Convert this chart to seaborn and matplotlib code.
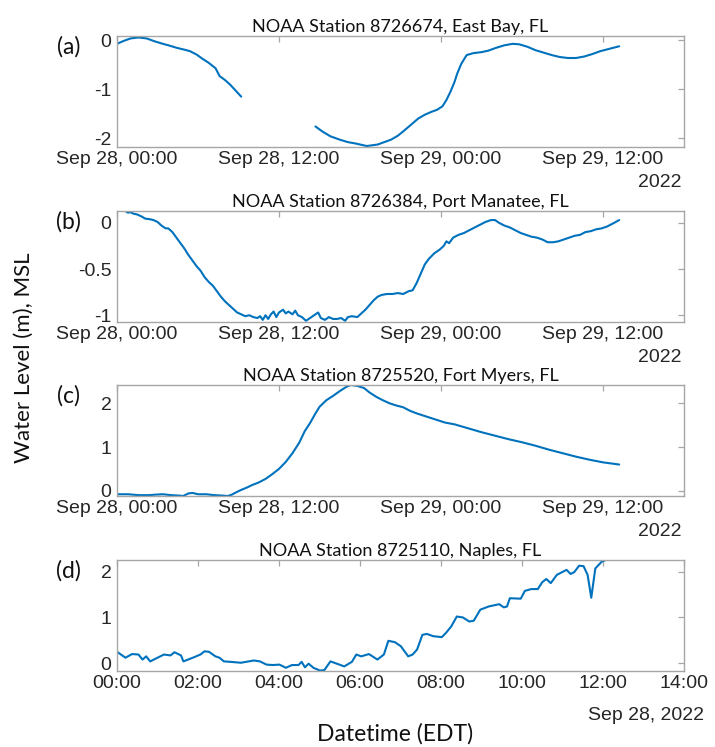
import numpy as np
import pandas as pd
import matplotlib
matplotlib.use("Agg")
import matplotlib.pyplot as plt
import matplotlib.dates as mdates
from matplotlib.ticker import FormatStrFormatter
import seaborn as sns

sns.set_style("white")
plt.rcParams['font.family'] = ['Liberation Sans', 'DejaVu Sans']
plt.rcParams['axes.unicode_minus'] = False

START = pd.Timestamp("2022-09-28 00:00")

# East Bay (8726674): hours after Sep 28 00:00 and level (m, MSL), record has a gap
eastbay_hours_1 = [0.0, 0.5, 1.0, 1.6, 2.2, 2.8, 3.4, 3.8, 4.4, 5.0, 5.4, 5.9, 6.3,
                   6.8, 7.3, 7.6, 8.0, 8.4, 8.8, 9.2]
eastbay_level_1 = [-0.07, -0.01, 0.04, 0.06, 0.04, -0.02, -0.07, -0.1, -0.15, -0.19,
                   -0.22, -0.29, -0.37, -0.46, -0.57, -0.73, -0.81, -0.91, -1.03, -1.15]
eastbay_hours_2 = [14.7, 15.2, 15.8, 16.5, 17.1, 17.7, 18.5, 19.3, 19.8, 20.3, 20.8,
                   21.2, 21.8, 22.3, 22.8, 23.3, 23.7, 24.1, 24.4, 24.7, 25.0, 25.2,
                   25.5, 25.9, 26.4, 27.0, 27.5, 28.1, 28.7, 29.3, 29.8, 30.4, 31.0,
                   31.6, 32.2, 32.8, 33.4, 34.0, 34.6, 35.2, 35.8, 36.5, 37.2]
eastbay_level_2 = [-1.76, -1.86, -1.96, -2.03, -2.08, -2.11, -2.16, -2.13, -2.08,
                   -2.03, -1.95, -1.86, -1.72, -1.6, -1.52, -1.46, -1.42, -1.35,
                   -1.22, -1.05, -0.85, -0.68, -0.48, -0.3, -0.26, -0.24, -0.21,
                   -0.15, -0.1, -0.07, -0.08, -0.13, -0.2, -0.25, -0.3, -0.34, -0.36,
                   -0.36, -0.33, -0.28, -0.22, -0.17, -0.12]

# Port Manatee (8726384)
manatee_hours = [0.0, 0.3, 0.6, 0.8, 1.0, 1.2, 1.5, 1.8, 2.1, 2.4, 2.7, 3.0, 3.3, 3.6,
                 3.8, 4.1, 4.4, 4.7, 5.0, 5.3, 5.6, 5.9, 6.2, 6.5, 6.8, 7.1, 7.4, 7.7,
                 8.0, 8.3, 8.6, 8.9, 9.2, 9.5, 9.8, 10.1, 10.4, 10.6, 10.8, 11.0,
                 11.2, 11.4, 11.6, 11.8, 12.0, 12.3, 12.5, 12.7, 13.0, 13.2, 13.4,
                 13.7, 14.0, 14.3, 14.6, 14.9, 15.1, 15.4, 15.7, 16.0, 16.3, 16.6,
                 16.9, 17.1, 17.4, 17.8, 18.1, 18.4, 18.7, 19.0, 19.3, 19.6, 20.0,
                 20.4, 20.8, 21.2, 21.6, 21.9, 22.2, 22.5, 22.8, 23.1, 23.5, 23.9,
                 24.2, 24.4, 24.6, 24.9, 25.3, 25.7, 26.1, 26.5, 26.9, 27.3, 27.7,
                 28.0, 28.3, 28.7, 29.1, 29.5, 29.9, 30.3, 30.7, 31.1, 31.5, 31.9,
                 32.3, 32.7, 33.1, 33.5, 33.9, 34.3, 34.7, 35.1, 35.5, 35.9, 36.3,
                 36.7, 37.2]
manatee_level = [0.13, 0.135, 0.13, 0.11, 0.115, 0.1, 0.09, 0.07, 0.045, 0.04, 0.03,
                 0.01, -0.03, -0.06, -0.06, -0.1, -0.16, -0.22, -0.28, -0.35, -0.41,
                 -0.47, -0.52, -0.59, -0.64, -0.68, -0.74, -0.8, -0.85, -0.89, -0.93,
                 -0.97, -0.99, -1.01, -1.0, -1.02, -1.03, -1.01, -1.05, -1.0, -1.04,
                 -0.99, -0.96, -1.02, -0.97, -0.94, -0.98, -0.96, -0.99, -0.95, -1.0,
                 -1.02, -1.06, -1.03, -1.0, -0.97, -1.03, -1.05, -1.02, -1.04, -1.04,
                 -1.03, -1.06, -1.02, -1.01, -1.02, -0.98, -0.94, -0.89, -0.84, -0.8,
                 -0.78, -0.77, -0.77, -0.76, -0.77, -0.74, -0.73, -0.65, -0.55, -0.45,
                 -0.39, -0.33, -0.29, -0.25, -0.2, -0.22, -0.16, -0.13, -0.11, -0.08,
                 -0.05, -0.02, 0.01, 0.03, 0.03, 0.0, -0.03, -0.05, -0.08, -0.11,
                 -0.13, -0.15, -0.16, -0.18, -0.21, -0.21, -0.2, -0.18, -0.16, -0.14,
                 -0.13, -0.1, -0.09, -0.07, -0.06, -0.04, -0.01, 0.03]

# Fort Myers (8725520)
myers_hours = [0.0, 0.8, 1.6, 2.4, 2.8, 3.4, 4.0, 4.6, 4.9, 5.3, 5.6, 6.0, 6.6, 7.2,
               7.8, 8.2, 8.5, 8.8, 9.2, 9.6, 10.0, 10.5, 11.0, 11.5, 12.0, 12.5, 13.0,
               13.5, 13.9, 14.3, 14.7, 15.0, 15.5, 16.0, 16.5, 17.0, 17.3, 17.8, 18.3,
               18.7, 19.2, 19.7, 20.2, 20.7, 21.2, 21.7, 22.2, 22.7, 23.5, 24.3, 25.0,
               26.0, 27.0, 28.0, 29.0, 30.0, 31.0, 32.0, 33.0, 34.0, 35.0, 36.0, 37.2]
myers_level = [-0.08, -0.08, -0.1, -0.1, -0.09, -0.08, -0.1, -0.11, -0.12, -0.06,
               -0.05, -0.08, -0.08, -0.1, -0.11, -0.12, -0.09, -0.04, 0.02, 0.07, 0.13,
               0.19, 0.27, 0.38, 0.5, 0.66, 0.86, 1.1, 1.36, 1.55, 1.77, 1.92, 2.07,
               2.17, 2.28, 2.38, 2.42, 2.4, 2.35, 2.25, 2.15, 2.07, 2.0, 1.95, 1.91,
               1.83, 1.77, 1.72, 1.64, 1.56, 1.52, 1.43, 1.34, 1.26, 1.18, 1.11, 1.03,
               0.94, 0.86, 0.78, 0.71, 0.65, 0.6]

# Naples (8725110)
naples_hours = [0.0, 0.21, 0.37, 0.53, 0.63, 0.72, 0.82, 1.0, 1.16, 1.32, 1.42, 1.58,
                1.64, 1.9, 2.06, 2.16, 2.27, 2.43, 2.53, 2.64, 2.8, 3.06, 3.38, 3.53,
                3.69, 3.85, 4.01, 4.17, 4.32, 4.48, 4.56, 4.64, 4.73, 4.85, 5.01, 5.12,
                5.27, 5.49, 5.61, 5.8, 5.91, 6.03, 6.22, 6.43, 6.59, 6.7, 6.86, 7.01,
                7.19, 7.3, 7.41, 7.54, 7.65, 7.81, 8.02, 8.12, 8.25, 8.39, 8.54, 8.7,
                8.81, 8.97, 9.18, 9.44, 9.55, 9.63, 9.7, 9.97, 10.07, 10.23, 10.39,
                10.5, 10.6, 10.71, 10.86, 11.1, 11.2, 11.29, 11.41, 11.52, 11.62,
                11.71, 11.81, 11.97, 12.11]
naples_level = [0.25, 0.12, 0.2, 0.19, 0.08, 0.15, 0.04, 0.12, 0.19, 0.17, 0.24, 0.17,
                0.04, 0.13, 0.19, 0.26, 0.25, 0.15, 0.12, 0.04, 0.03, 0.01, 0.06, 0.04,
                -0.03, -0.04, -0.03, -0.1, -0.04, -0.04, 0.03, -0.09, -0.01, -0.1,
                -0.16, -0.15, 0.04, -0.03, -0.07, 0.03, 0.19, 0.15, 0.2, 0.08, 0.19,
                0.49, 0.46, 0.37, 0.15, 0.19, 0.3, 0.62, 0.64, 0.59, 0.57, 0.66, 0.8,
                1.02, 1.0, 0.91, 0.93, 1.17, 1.24, 1.29, 1.22, 1.24, 1.42, 1.41, 1.58,
                1.62, 1.62, 1.77, 1.84, 1.75, 1.93, 2.04, 1.95, 1.99, 2.13, 2.12, 1.93,
                1.43, 2.07, 2.22, 2.27]

titles = ["NOAA Station 8726674, East Bay, FL",
          "NOAA Station 8726384, Port Manatee, FL",
          "NOAA Station 8725520, Fort Myers, FL",
          "NOAA Station 8725110, Naples, FL"]
panel_tags = ["(a)", "(b)", "(c)", "(d)"]
ylims = [(-2.18, 0.09), (-1.073, 0.128), (-0.12, 2.42), (-0.17, 2.255)]
yticks = [[-2, -1, 0], [-1, -0.5, 0], [0, 1, 2], [0, 1, 2]]


def make_frame(hours, level, piece=0):
    return pd.DataFrame({"time": START + pd.to_timedelta(hours, unit="h"),
                         "level": level, "piece": piece})


frames = [
    pd.concat([make_frame(eastbay_hours_1, eastbay_level_1, 0),
               make_frame(eastbay_hours_2, eastbay_level_2, 1)]),
    make_frame(manatee_hours, manatee_level),
    make_frame(myers_hours, myers_level),
    make_frame(naples_hours, naples_level),
]

LINE = "#0072BD"
EDGE = "#a6a6a6"
TXT = "#262626"

fig = plt.figure(figsize=(7.15, 7.47), dpi=100)
# axes boxes (pixels -> figure fraction)
tops = [36, 211, 385, 560]
axes = []
for i, top in enumerate(tops):
    ax = fig.add_axes([117 / 715, 1 - (top + 111) / 747, 567 / 715, 111 / 747])
    axes.append(ax)
    sns.lineplot(data=frames[i], x="time", y="level", units="piece", estimator=None,
                 color=LINE, linewidth=1.5, ax=ax)
    ax.set_ylim(*ylims[i])
    ax.set_yticks(yticks[i])
    ax.yaxis.set_major_formatter(FormatStrFormatter('%g'))
    ax.set_xlabel("")
    ax.set_ylabel("")
    ax.set_title(titles[i], fontfamily="Lato", fontsize=13, color="#111111", pad=3)
    ax.text(-0.086, 0.9, panel_tags[i], transform=ax.transAxes, ha="center",
            va="center", fontfamily="Lato", fontsize=16.5, color="#111111")
    for sp in ax.spines.values():
        sp.set_color(EDGE)
        sp.set_linewidth(1.0)
    ax.tick_params(direction="in", top=True, right=True, length=4, width=0.9,
                   color=EDGE, labelcolor=TXT, labelsize=14, pad=4)
    ax.tick_params(axis="x", pad=3)

for ax in axes[:3]:
    ax.set_xlim(START, START + pd.Timedelta(hours=42))
    ax.xaxis.set_major_locator(mdates.HourLocator(byhour=[0, 12]))
    ax.xaxis.set_major_formatter(mdates.DateFormatter("%b %d, %H:%M"))
    ax.text(0.995, -0.32, "2022", transform=ax.transAxes, ha="right", va="center",
            fontsize=14, color=TXT)

ax = axes[3]
ax.set_xlim(START, START + pd.Timedelta(hours=14))
ax.xaxis.set_major_locator(mdates.HourLocator(interval=2))
ax.xaxis.set_major_formatter(mdates.DateFormatter("%H:%M"))
ax.text(1.035, -0.40, "Sep 28, 2022", transform=ax.transAxes, ha="right",
        va="center", fontsize=14, color=TXT)

fig.text(395 / 715, 1 - 734 / 747, "Datetime (EDT)", ha="center", va="center",
         fontfamily="Lato", fontsize=16.5, color="#111111")
fig.text(24 / 715, 1 - 358 / 747, "Water Level (m), MSL", rotation=90, ha="center",
         va="center", fontfamily="Lato", fontsize=16, color="#111111")

fig.savefig("out.png", dpi=100)
